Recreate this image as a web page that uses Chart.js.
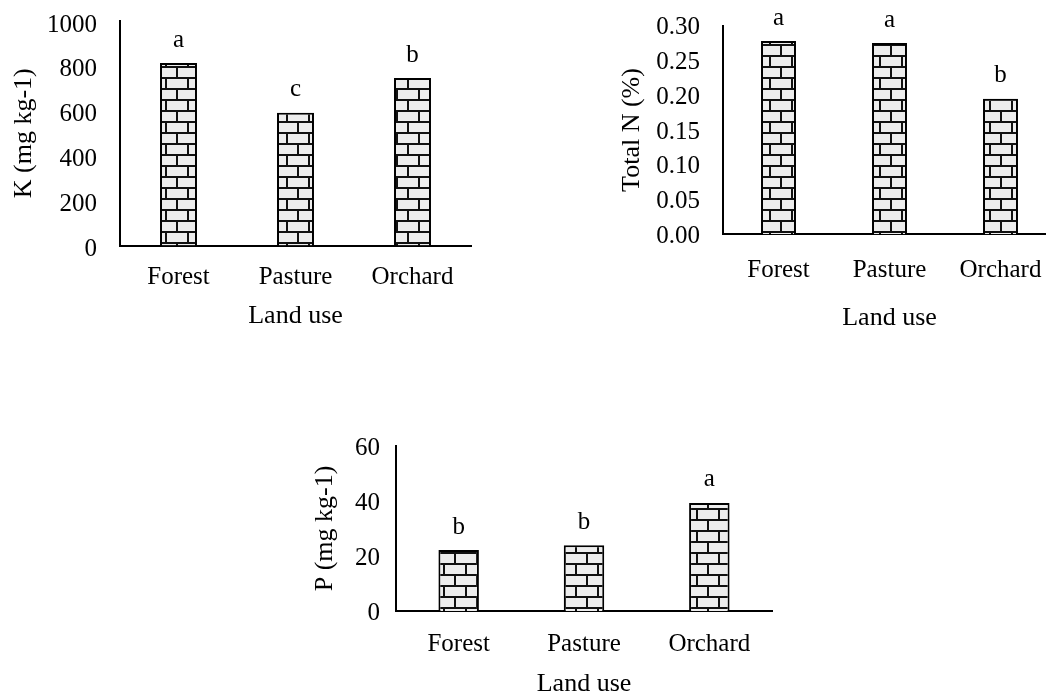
<!DOCTYPE html>
<html>
<head>
<meta charset="utf-8">
<script src="https://cdn.jsdelivr.net/npm/chart.js@4.4.1/dist/chart.umd.min.js"></script>
<style>
  html, body { margin: 0; padding: 0; background: #fff; width: 1046px; height: 695px; overflow: hidden; }
  canvas { position: absolute; }
</style>
</head>
<body>
<canvas id="chartK" width="500" height="340" style="left:0;top:0"></canvas>
<canvas id="chartN" width="520" height="340" style="left:560px;top:0"></canvas>
<canvas id="chartP" width="500" height="285" style="left:300px;top:420px"></canvas>
<script>
const landUse = ["Forest", "Pasture", "Orchard"];

const kValues = [813, 591, 746];
const kLetters = ["a", "c", "b"];
const kTicks = [0, 200, 400, 600, 800, 1000];

const nValues = [0.278, 0.275, 0.195];
const nLetters = ["a", "a", "b"];
const nTicks = [0, 0.05, 0.10, 0.15, 0.20, 0.25, 0.30];

const pValues = [22.2, 23.9, 39.3];
const pLetters = ["b", "b", "a"];
const pTicks = [0, 20, 40, 60];

const FONT = "'Liberation Serif', 'Times New Roman', serif";
const SIZE = 25;
const TITLE_SIZE = 26;

function brickPattern(ctx) {
    const c = document.createElement("canvas");
    c.width = 22;
    c.height = 22;
    const g = c.getContext("2d");
    g.fillStyle = "#ededed";
    g.fillRect(0, 0, 22, 22);
    g.fillStyle = "#111";
    g.fillRect(0, 0, 22, 2);
    g.fillRect(0, 11, 22, 2);
    g.fillRect(0, 0, 2, 11);
    g.fillRect(11, 11, 2, 11);
    return ctx.createPattern(c, "repeat");
}

// letters of the significance test, drawn above each bar
const letterPlugin = {
    id: "letters",
    afterDatasetsDraw(chart, args, opts) {
        const ctx = chart.ctx;
        const meta = chart.getDatasetMeta(0);
        ctx.save();
        ctx.font = SIZE + "px " + FONT;
        ctx.fillStyle = "#000";
        ctx.textAlign = "center";
        ctx.textBaseline = "middle";
        meta.data.forEach((bar, i) => {
            ctx.fillText(opts.letters[i], bar.x, bar.y - 23);
        });
        ctx.restore();
    }
};

function makeChart(id, cfg) {
    const canvas = document.getElementById(id);
    const ctx = canvas.getContext("2d");
    const a = cfg.area;
    const font = { family: FONT, size: SIZE, lineHeight: 1.2 };
    const tFont = { family: FONT, size: TITLE_SIZE, lineHeight: 1.2 };
    const lh = SIZE * 1.2, tlh = TITLE_SIZE * 1.2;

    return new Chart(ctx, {
        type: "bar",
        data: {
            labels: landUse,
            datasets: [{
                data: cfg.values,
                backgroundColor: brickPattern(ctx),
                borderColor: "#000",
                borderWidth: 2,
                categoryPercentage: 1,
                barPercentage: cfg.barPct
            }]
        },
        plugins: [letterPlugin],
        options: {
            responsive: false,
            animation: false,
            layout: {
                padding: { left: 0, top: a.t, right: canvas.width - a.r, bottom: 0 }
            },
            plugins: {
                legend: { display: false },
                tooltip: { enabled: false },
                letters: { letters: cfg.letters }
            },
            scales: {
                x: {
                    grid: { display: false, drawTicks: false },
                    border: { display: true, color: "#000", width: 2 },
                    ticks: { color: "#000", font: font, padding: cfg.xLabelMid - a.b - lh / 2, maxRotation: 0 },
                    title: {
                        display: true, text: "Land use", color: "#000", font: tFont,
                        padding: { top: 0, bottom: canvas.height - cfg.xTitleY - tlh / 2 }
                    },
                    afterFit: s => {
                        s.height = canvas.height - a.b;
                        s.paddingLeft = 0;
                        s.paddingRight = 0;
                    }
                },
                y: {
                    min: cfg.ticks[0],
                    max: cfg.ticks[cfg.ticks.length - 1],
                    grid: { display: false, drawTicks: false },
                    border: { display: true, color: "#000", width: 2 },
                    afterBuildTicks: s => { s.ticks = cfg.ticks.map(v => ({ value: v })); },
                    ticks: {
                        color: "#000", font: font, padding: cfg.yLabelPad,
                        labelOffset: cfg.labelOffset,
                        callback: v => v.toFixed(cfg.decimals)
                    },
                    title: {
                        display: true, text: cfg.yTitle, color: "#000", font: tFont,
                        padding: { top: cfg.yTitleX - tlh / 2, bottom: 0 }
                    },
                    afterFit: s => {
                        s.width = a.l;
                        s.paddingTop = 0;
                        s.paddingBottom = 0;
                    }
                }
            }
        }
    });
}

makeChart("chartK", {
    values: kValues, letters: kLetters, ticks: kTicks, decimals: 0,
    yTitle: "K (mg kg-1)",
    area: { l: 120, t: 21, r: 471, b: 245.5 },
    barPct: 0.316, yTitleX: 24, xTitleY: 316, xLabelMid: 277.5, yLabelPad: 23, labelOffset: 4
});

makeChart("chartN", {
    values: nValues, letters: nLetters, ticks: nTicks, decimals: 2,
    yTitle: "Total N (%)",
    area: { l: 163, t: 25.7, r: 496, b: 234.3 },
    barPct: 0.315, yTitleX: 72, xTitleY: 318, xLabelMid: 270.5, yLabelPad: 23, labelOffset: 2
});

makeChart("chartP", {
    values: pValues, letters: pLetters, ticks: pTicks, decimals: 0,
    yTitle: "P (mg kg-1)",
    area: { l: 96, t: 26, r: 472, b: 191 },
    barPct: 0.323, yTitleX: 25, xTitleY: 264.5, xLabelMid: 224, yLabelPad: 16, labelOffset: 2
});
</script>
</body>
</html>
